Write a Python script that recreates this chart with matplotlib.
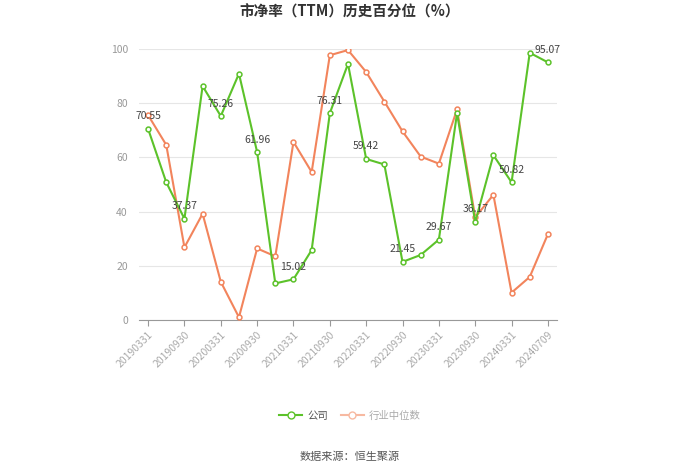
import matplotlib.pyplot as plt
from matplotlib.lines import Line2D

plt.rcParams['font.family'] = ['Noto Sans CJK SC', 'DejaVu Sans']

# quarterly report dates plus the latest date
dates = ['20190331', '20190630', '20190930', '20191231',
         '20200331', '20200630', '20200930', '20201231',
         '20210331', '20210630', '20210930', '20211231',
         '20220331', '20220630', '20220930', '20221231',
         '20230331', '20230630', '20230930', '20231231',
         '20240331', '20240630', '20240709']
company = [70.55, 50.8, 37.37, 86.3, 75.26, 90.9, 61.96, 13.5, 15.02, 25.8,
           76.31, 94.5, 59.42, 57.4, 21.45, 24.0, 29.67, 76.3, 36.17, 60.8,
           50.82, 98.6, 95.07]
industry = [75.6, 64.6, 26.8, 39.2, 14.1, 1.0, 26.4, 23.5, 65.7, 54.6,
            97.7, 99.6, 91.5, 80.6, 69.6, 60.3, 57.7, 77.7, 37.9, 46.2,
            10.1, 15.9, 31.7]
yticks = [0, 20, 40, 60, 80, 100]

green = '#5cc22a'
orange = '#f2845c'

fig = plt.figure(figsize=(7, 4.74), dpi=100)
ax = fig.add_axes([139/700, 1 - 320/474, 418/700, 271/474])

x = list(range(len(dates)))
ax.plot(x, industry, color=orange, lw=1.5, marker='o', ms=3.5,
        mfc='white', mec=orange, mew=1.1, zorder=3)
ax.plot(x, company, color=green, lw=1.5, marker='o', ms=3.5,
        mfc='white', mec=green, mew=1.1, zorder=4)

# value labels on every other company point
for i in range(0, len(dates), 2):
    ax.annotate(f'{company[i]:.2f}', (x[i], company[i]), xytext=(0, 9),
                textcoords='offset points', ha='center', va='center',
                fontsize=7.5, color='#444444', zorder=5)

ax.set_xlim(-0.5, len(dates) - 0.5)
ax.set_ylim(0, 100)
ax.set_yticks(yticks)
ax.set_yticklabels([str(v) for v in yticks], fontsize=7.5, color='#999999')
ax.tick_params(axis='y', length=0, pad=8)
ax.grid(axis='y', color='#e6e6e6', lw=0.8)
ax.set_axisbelow(True)

ax.set_xticks(x[::2])
ax.set_xticklabels(dates[::2], rotation=45, ha='right', rotation_mode='anchor',
                   fontsize=7.5, color='#aaaaaa')
ax.tick_params(axis='x', length=4, color='#999999', pad=3)

for s in ['top', 'right', 'left']:
    ax.spines[s].set_visible(False)
ax.spines['bottom'].set_color('#999999')

fig.text(0.5, 1 - 12/474, '市净率（TTM）历史百分位（%）', ha='center', va='center',
         fontsize=10.5, fontweight='bold', color='#333333')

handles = [Line2D([], [], color=green, lw=1.5, marker='o', ms=5, mfc='white', mec=green),
           Line2D([], [], color='#f7b9a1', lw=1.5, marker='o', ms=5, mfc='white', mec='#f7b9a1')]
leg = fig.legend(handles, ['公司', '行业中位数'], loc='center', bbox_to_anchor=(0.5, 1 - 416/474),
                 ncol=2, frameon=False, fontsize=7.5, handlelength=2.2, columnspacing=1.2,
                 handletextpad=0.5)
leg.get_texts()[0].set_color('#555555')
leg.get_texts()[1].set_color('#aaaaaa')

fig.text(0.5, 1 - 457/474, '数据来源：恒生聚源', ha='center', va='center',
         fontsize=8, color='#555555')

fig.savefig('out.png', dpi=100)
